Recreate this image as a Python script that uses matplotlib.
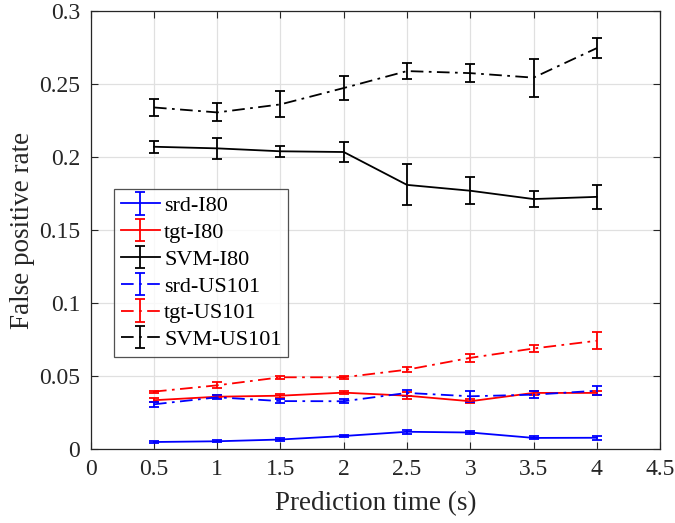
import matplotlib
matplotlib.use("Agg")
import matplotlib.pyplot as plt

plt.rcParams['font.family'] = ['Liberation Serif', 'DejaVu Serif']
plt.rcParams['mathtext.fontset'] = 'stix'

t = [0.5, 1.0, 1.5, 2.0, 2.5, 3.0, 3.5, 4.0]

srd_I80 = [0.0050, 0.0055, 0.0067, 0.0091, 0.0120, 0.0115, 0.0078, 0.0079]
srd_I80_err = [0.0010, 0.0008, 0.0008, 0.0010, 0.0012, 0.0008, 0.0010, 0.0015]
tgt_I80 = [0.0336, 0.0360, 0.0367, 0.0388, 0.0367, 0.0329, 0.0386, 0.0386]
tgt_I80_err = [0.0012, 0.0012, 0.0015, 0.0010, 0.0022, 0.0015, 0.0015, 0.0015]
svm_I80 = [0.2071, 0.2060, 0.2040, 0.2035, 0.1810, 0.1770, 0.1713, 0.1728]
svm_I80_err = [0.0041, 0.0072, 0.0036, 0.0071, 0.0141, 0.0091, 0.0057, 0.0083]
srd_US101 = [0.0308, 0.0356, 0.0330, 0.0329, 0.0386, 0.0363, 0.0374, 0.0401]
srd_US101_err = [0.0015, 0.0015, 0.0015, 0.0015, 0.0020, 0.0036, 0.0025, 0.0031]
tgt_US101 = [0.0395, 0.0438, 0.0493, 0.0493, 0.0545, 0.0626, 0.0690, 0.0743]
tgt_US101_err = [0.0007, 0.0020, 0.0010, 0.0010, 0.0015, 0.0026, 0.0022, 0.0059]
svm_US101 = [0.2340, 0.2306, 0.2361, 0.2473, 0.2589, 0.2575, 0.2544, 0.2746]
svm_US101_err = [0.0059, 0.0062, 0.0089, 0.0080, 0.0057, 0.0063, 0.0131, 0.0069]

labels = ['srd-I80', 'tgt-I80', 'SVM-I80', 'srd-US101', 'tgt-US101', 'SVM-US101']

fig = plt.figure(figsize=(6.75, 5.23), dpi=100)
ax = fig.add_axes([0.1344, 0.1409, 0.8434, 0.838])

dashdot = (0, (7, 3, 1.5, 3))
series = [
    (srd_I80, srd_I80_err, 'blue', '-'),
    (tgt_I80, tgt_I80_err, 'red', '-'),
    (svm_I80, svm_I80_err, 'black', '-'),
    (srd_US101, srd_US101_err, 'blue', dashdot),
    (tgt_US101, tgt_US101_err, 'red', dashdot),
    (svm_US101, svm_US101_err, 'black', dashdot),
]
for (y, e, c, ls), lab in zip(series, labels):
    ax.errorbar(t, y, yerr=e, color=c, linestyle=ls, lw=1.3,
                elinewidth=1.3, capsize=3.5, capthick=1.3, label=lab)

ax.set_xlim(0, 4.5)
ax.set_ylim(0, 0.3)
ax.set_xticks([0, 0.5, 1, 1.5, 2, 2.5, 3, 3.5, 4, 4.5])
ax.set_xticklabels(['0', '0.5', '1', '1.5', '2', '2.5', '3', '3.5', '4', '4.5'])
ax.set_yticks([0, 0.05, 0.1, 0.15, 0.2, 0.25, 0.3])
ax.set_yticklabels(['0', '0.05', '0.1', '0.15', '0.2', '0.25', '0.3'])
ax.grid(True, color='#e0e0e0', linewidth=0.9)
ax.set_axisbelow(True)
ax.tick_params(direction='in', top=True, right=True, labelsize=17,
               colors='#262626', length=5, width=0.8)
ax.tick_params(axis='x', pad=7)
ax.tick_params(axis='y', pad=7.5)
for s in ax.spines.values():
    s.set_color('#262626')
    s.set_linewidth(0.9)
ax.set_xlabel('Prediction time (s)', fontsize=19.5, color='#262626', labelpad=8)
ax.set_ylabel('False positive rate', fontsize=19.5, color='#262626', labelpad=3)

leg = ax.legend(loc='upper left', bbox_to_anchor=(0.041, 0.594), fontsize=16,
                frameon=True, fancybox=False, edgecolor='#262626',
                handlelength=1.75, handletextpad=0.2, borderpad=0.3,
                labelspacing=0.28, borderaxespad=0)
leg.get_frame().set_linewidth(0.9)

fig.savefig('out.png', dpi=100)
